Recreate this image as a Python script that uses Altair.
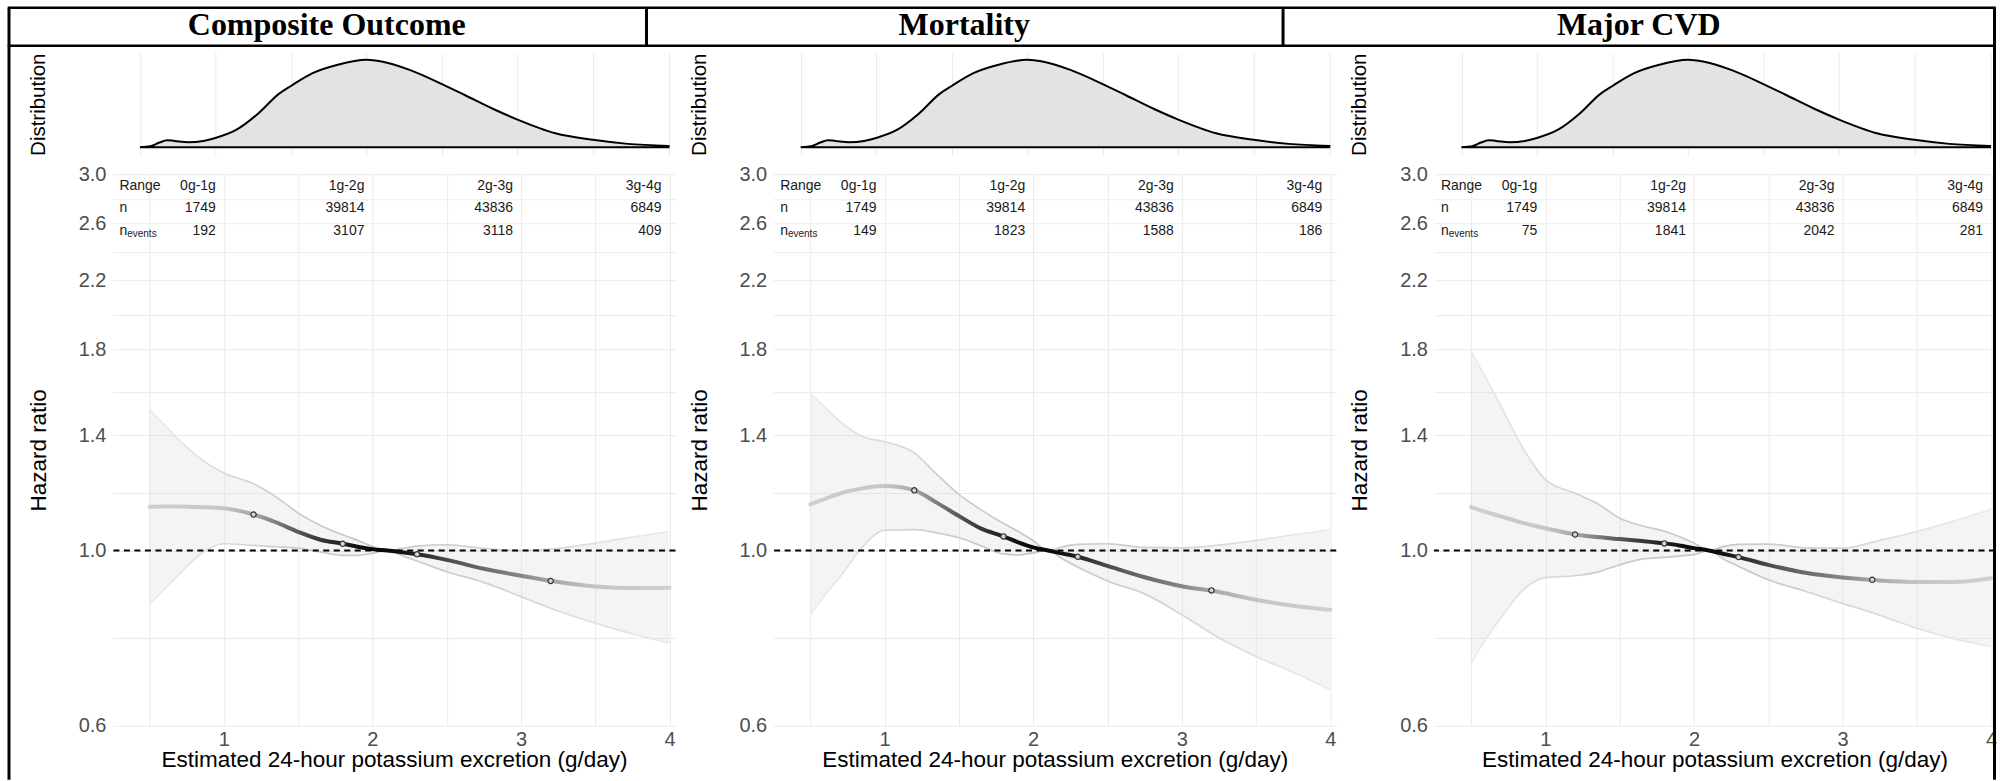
import altair as alt
import pandas as pd

# ------------------------------------------------------------------ data
OUTCOMES = ["Composite Outcome", "Mortality", "Major CVD"]

# distribution of estimated 24-h potassium excretion (relative density)
DENS_X = [0.5, 0.57, 0.63, 0.68, 0.73, 0.82, 0.92, 1.0, 1.14, 1.28, 1.42, 1.5, 1.64,
          1.81, 2.0, 2.1, 2.29, 2.5, 2.65, 2.84, 3.0, 3.25, 3.5, 3.73, 4.0]
DENS_Y = [0.0, 0.011, 0.053, 0.080, 0.072, 0.057, 0.072, 0.106, 0.20, 0.38, 0.61, 0.70, 0.844,
          0.943, 1.0, 0.981, 0.882, 0.722, 0.597, 0.437, 0.316, 0.16, 0.084, 0.038, 0.015]

HR_X = [0.5, 0.6, 0.7, 0.85, 1.0, 1.2, 1.35, 1.5, 1.65, 1.8, 1.9, 2.0, 2.1, 2.2, 2.3,
        2.5, 2.75, 3.0, 3.25, 3.5, 3.75, 4.0]

COMP_EST = [1.136, 1.137, 1.137, 1.135, 1.131, 1.111, 1.086, 1.056, 1.032, 1.020, 1.011,
            1.004, 1.000, 0.995, 0.989, 0.973, 0.948, 0.929, 0.912, 0.900, 0.896, 0.897]
COMP_HI = [1.509, 1.443, 1.380, 1.304, 1.254, 1.215, 1.170, 1.116, 1.076, 1.047, 1.030,
           1.012, 1.000, 1.006, 1.013, 1.017, 1.006, 1.000, 1.006, 1.022, 1.040, 1.057]
COMP_LO = [0.853, 0.893, 0.933, 0.992, 1.020, 1.015, 1.011, 1.007, 0.996, 0.986, 0.986,
           0.992, 1.000, 0.985, 0.970, 0.940, 0.911, 0.874, 0.838, 0.809, 0.784, 0.763]

MORT_EST = [1.144, 1.163, 1.181, 1.199, 1.207, 1.192, 1.150, 1.106, 1.066, 1.042, 1.024,
            1.009, 1.000, 0.991, 0.982, 0.956, 0.925, 0.901, 0.886, 0.866, 0.851, 0.841]
MORT_HI = [1.581, 1.519, 1.458, 1.395, 1.374, 1.330, 1.250, 1.178, 1.126, 1.082, 1.057,
           1.029, 1.000, 1.011, 1.018, 1.020, 1.009, 1.008, 1.016, 1.030, 1.047, 1.063]
MORT_LO = [0.829, 0.879, 0.926, 1.010, 1.061, 1.063, 1.053, 1.038, 1.014, 0.990, 0.987,
           0.993, 1.000, 0.975, 0.953, 0.915, 0.881, 0.829, 0.775, 0.734, 0.701, 0.666]

CVD_EST = [1.135, 1.119, 1.105, 1.084, 1.067, 1.048, 1.040, 1.034, 1.028, 1.021, 1.015,
           1.007, 1.000, 0.990, 0.981, 0.959, 0.937, 0.924, 0.916, 0.912, 0.912, 0.922]
CVD_HI = [1.790, 1.655, 1.525, 1.349, 1.230, 1.182, 1.147, 1.099, 1.075, 1.058, 1.042,
          1.022, 1.000, 1.012, 1.018, 1.019, 1.008, 1.007, 1.030, 1.057, 1.090, 1.128]
CVD_LO = [0.719, 0.772, 0.821, 0.891, 0.924, 0.929, 0.939, 0.959, 0.975, 0.980, 0.984,
          0.988, 1.000, 0.975, 0.955, 0.918, 0.888, 0.857, 0.828, 0.797, 0.773, 0.755]

MARK_X = [1.2, 1.8, 2.3, 3.2]
COMP_MARK = [1.111, 1.020, 0.989, 0.915]
MORT_MARK = [1.192, 1.042, 0.982, 0.890]
CVD_MARK = [1.048, 1.021, 0.981, 0.918]

RANGE_LABELS = ["0g-1g", "1g-2g", "2g-3g", "3g-4g"]
RANGE_UPPER = [1, 2, 3, 4]
N_TOTAL = [1749, 39814, 43836, 6849]
COMP_EVENTS = [192, 3107, 3118, 409]
MORT_EVENTS = [149, 1823, 1588, 186]
CVD_EVENTS = [75, 1841, 2042, 281]

X_TITLE = "Estimated 24-hour potassium excretion (g/day)"

# ------------------------------------------------------------------ layout / style
PAD_LEFT, PAD_TOP = 6.5, 5.5
PLOT_LEFT, DENS_TOP = 112.5, 52.0
PLOT_W = [563.5, 563.5, 561.5]
COL_GAP = 97.25
DENS_H = 103
ROW_GAP = 18.6
HR_H = 551.6
HR_TOP = DENS_TOP + DENS_H + ROW_GAP

X_MIN = 0.25
X_MAX = [4.04, 4.04, 4.0264]
DENS_X_MIN = 0.318
DENS_X_MAX = [4.046, 4.046, 4.0327]
DENS_Y_DOMAIN = [-0.097, 1.08]
HR_Y_DOMAIN = [0.6, 3.0]
TABLE_ROW_Y = [2.9, 2.72, 2.54]
GRID_X = [0.5, 1.0, 1.5, 2.0, 2.5, 3.0, 3.5, 4.0]
HR_GRID_Y = [0.6, 0.7746, 1.0, 1.1832, 1.4, 1.5875, 1.8, 1.99, 2.2, 2.3917, 2.6, 2.7928, 3.0]

BOX_EDGES = [8, 646, 1283, 1995]
HEADER_TOP, HEADER_BOTTOM, FIG_BOTTOM = 7, 45, 779.5

AXIS_TITLE_X = -74
DIST_TITLE_Y = 51.5
HR_TITLE_Y = 275.8
X_TITLE_Y = 34.5
TITLE_OFFSET = 18.3
TITLE_DY = 33

GRID_C = "#ebebeb"
TABLE_C = "#1a1a1a"

EST_SHADE = [(0.5, "#cfcfcf"), (1.0, "#c6c6c6"), (1.2, "#a8a8a8"), (1.4, "#707070"),
             (1.6, "#404040"), (1.8, "#1e1e1e"), (2.0, "#050505"), (2.2, "#111111"),
             (2.4, "#383838"), (2.6, "#5a5a5a"), (3.0, "#868686"), (3.2, "#a6a6a6"),
             (3.5, "#c4c4c4"), (4.0, "#d0d0d0")]
CI_SHADE = [(0.5, "#ececec"), (1.0, "#d9d9d9"), (1.4, "#cdcdcd"), (2.0, "#c6c6c6"),
            (2.6, "#cdcdcd"), (3.2, "#dadada"), (4.0, "#ebebeb")]


def grad(shades):
    return alt.LinearGradient(
        gradient="linear", x1=0, x2=1, y1=0, y2=0,
        stops=[alt.GradientStop(color=c, offset=round((x - 0.5) / 3.5, 4)) for x, c in shades])


EST_GRAD = grad(EST_SHADE)
CI_GRAD = grad(CI_SHADE)


def col_left(i):
    return PLOT_LEFT + i * (PLOT_W[0] + COL_GAP)


def title_dx(i):
    box_c = (BOX_EDGES[i] + BOX_EDGES[i + 1]) / 2
    return box_c - (col_left(i) + PLOT_W[i] / 2)


# ------------------------------------------------------------------ charts
def density_chart(i):
    df = pd.DataFrame({"x": DENS_X, "density": DENS_Y, "base": [0.0] * len(DENS_X)})
    title = alt.TitleParams(text=OUTCOMES[i], font="Liberation Serif", fontSize=32,
                            fontWeight="bold", color="black", anchor="middle", frame="group",
                            baseline="alphabetic", offset=TITLE_OFFSET, dx=title_dx(i),
                            dy=TITLE_DY)
    return alt.Chart(df, title=title).mark_area(
        interpolate="monotone", fill="#e3e3e3", stroke="black", strokeWidth=2, opacity=1
    ).encode(
        x=alt.X("x:Q", scale=alt.Scale(domain=[DENS_X_MIN, DENS_X_MAX[i]], nice=False, zero=False),
                axis=alt.Axis(values=GRID_X, labels=False, ticks=False, domain=False, grid=True,
                              title=None)),
        y=alt.Y("density:Q", scale=alt.Scale(domain=DENS_Y_DOMAIN, nice=False, zero=False),
                axis=alt.Axis(values=[0], labels=False, ticks=False, domain=False, grid=False,
                              title="Distribution", titleX=AXIS_TITLE_X, titleY=DIST_TITLE_Y,
                              titleBaseline="middle", titleFontSize=20.5)),
        y2="base:Q",
    ).properties(width=PLOT_W[i], height=DENS_H)


def hr_chart(i, est, lo, hi, marks, events, borders=False):
    w = PLOT_W[i]
    df = pd.DataFrame({"x": HR_X, "est": est, "lo": lo, "hi": hi})
    xs = alt.Scale(domain=[X_MIN, X_MAX[i]], nice=False, zero=False)
    ys = alt.Scale(type="log", domain=HR_Y_DOMAIN, nice=False)
    x_axis = alt.Axis(values=GRID_X, labelExpr="datum.value % 1 == 0 ? format(datum.value, 'd') : ''",
                      labelPadding=4, grid=True, title=X_TITLE, titleX=w / 2, titleY=X_TITLE_Y,
                      titleBaseline="middle", titleFontSize=22.5)
    y_axis = alt.Axis(values=HR_GRID_Y,
                      labelExpr="abs(datum.value*5 - round(datum.value*5)) < 0.01 ? format(datum.value, '.1f') : ''",
                      labelPadding=6.5, grid=True, title="Hazard ratio", titleX=AXIS_TITLE_X,
                      titleY=HR_TITLE_Y, titleBaseline="middle", titleFontSize=22.5)

    # confidence band; this layer also carries the scales and axes
    band = alt.Chart(df).mark_area(interpolate="monotone", fill="#d8d8d8", fillOpacity=0.28,
                                   opacity=1).encode(
        x=alt.X("x:Q", scale=xs, axis=x_axis),
        y=alt.Y("lo:Q", scale=ys, axis=y_axis),
        y2="hi:Q",
    )
    base = alt.Chart(df)
    upper = base.mark_line(interpolate="monotone", stroke=CI_GRAD, strokeWidth=1.7).encode(
        x="x:Q", y="hi:Q")
    lower = base.mark_line(interpolate="monotone", stroke=CI_GRAD, strokeWidth=1.7).encode(
        x="x:Q", y="lo:Q")
    ref = alt.Chart(pd.DataFrame({"ref": [1.0]})).mark_rule(
        color="black", strokeWidth=1.8, strokeDash=[6, 4.5]).encode(y="ref:Q")
    line = base.mark_line(interpolate="monotone", stroke=EST_GRAD, strokeWidth=4,
                          strokeCap="round").encode(x="x:Q", y="est:Q")
    pts = alt.Chart(pd.DataFrame({"x": MARK_X, "hr": marks})).mark_point(
        shape="circle", filled=True, fill="#d4d4d4", stroke="#333333", strokeWidth=1.2,
        size=28, opacity=1).encode(x="x:Q", y="hr:Q")

    rows = []
    for j in range(4):
        rows.append({"upper": RANGE_UPPER[j], "text": RANGE_LABELS[j], "row_y": TABLE_ROW_Y[0]})
        rows.append({"upper": RANGE_UPPER[j], "text": str(N_TOTAL[j]), "row_y": TABLE_ROW_Y[1]})
        rows.append({"upper": RANGE_UPPER[j], "text": str(events[j]), "row_y": TABLE_ROW_Y[2]})
    cells = alt.Chart(pd.DataFrame(rows)).mark_text(
        align="right", baseline="middle", dx=-8, fontSize=14, color=TABLE_C).encode(
        x="upper:Q", y="row_y:Q", text="text:N")
    heads = alt.Chart(pd.DataFrame({"x": [X_MIN] * 3, "text": ["Range", "n", "n"],
                                    "row_y": TABLE_ROW_Y})).mark_text(
        align="left", baseline="middle", dx=7, fontSize=14, color=TABLE_C).encode(
        x="x:Q", y="row_y:Q", text="text:N")
    sub = alt.Chart(pd.DataFrame({"x": [X_MIN], "text": ["events"],
                                  "row_y": [TABLE_ROW_Y[2]]})).mark_text(
        align="left", baseline="middle", dx=14.8, dy=3, fontSize=10, color=TABLE_C).encode(
        x="x:Q", y="row_y:Q", text="text:N")

    layers = [band, upper, lower, ref, line, pts, cells, heads, sub]

    if borders:
        ox, oy = col_left(i), HR_TOP
        one = pd.DataFrame({"k": [0]})

        def hrule(y, x1, x2, sw):
            return alt.Chart(one).mark_rule(color="black", strokeWidth=sw, strokeCap="square").encode(
                x=alt.value(x1 - ox), x2=alt.value(x2 - ox), y=alt.value(y - oy))

        def vrule(x, y1, y2, sw):
            return alt.Chart(one).mark_rule(color="black", strokeWidth=sw).encode(
                x=alt.value(x - ox), y=alt.value(y1 - oy), y2=alt.value(y2 - oy))

        layers += [
            hrule(HEADER_TOP, BOX_EDGES[0], BOX_EDGES[-1], 2.5),
            hrule(HEADER_BOTTOM, BOX_EDGES[0], BOX_EDGES[-1], 2.5),
            vrule(BOX_EDGES[1], HEADER_TOP, HEADER_BOTTOM, 3),
            vrule(BOX_EDGES[2], HEADER_TOP, HEADER_BOTTOM, 3),
            vrule(BOX_EDGES[0], HEADER_TOP, FIG_BOTTOM, 3),
            vrule(BOX_EDGES[-1], HEADER_TOP, FIG_BOTTOM, 3),
        ]

    return alt.layer(*layers).properties(width=w, height=HR_H)


charts = [density_chart(0), density_chart(1), density_chart(2),
          hr_chart(0, COMP_EST, COMP_LO, COMP_HI, COMP_MARK, COMP_EVENTS),
          hr_chart(1, MORT_EST, MORT_LO, MORT_HI, MORT_MARK, MORT_EVENTS),
          hr_chart(2, CVD_EST, CVD_LO, CVD_HI, CVD_MARK, CVD_EVENTS, borders=True)]

chart = alt.concat(
    *charts, columns=3, spacing={"row": ROW_GAP, "column": COL_GAP}, bounds="flush", align="each"
).properties(
    padding={"left": PAD_LEFT, "top": PAD_TOP, "right": 2, "bottom": 0}
).configure(
    font="Liberation Sans"
).configure_view(
    stroke=None
).configure_axis(
    labelFont="Liberation Sans", titleFont="Liberation Sans", titleFontWeight="normal",
    labelColor="#4d4d4d", titleColor="black", labelFontSize=20, ticks=False, tickSize=0,
    domain=False, gridColor=GRID_C, gridWidth=1, labelFlush=False, labelOverlap=False
)

chart.save("out.html", embed_options={"renderer": "svg", "actions": False})
